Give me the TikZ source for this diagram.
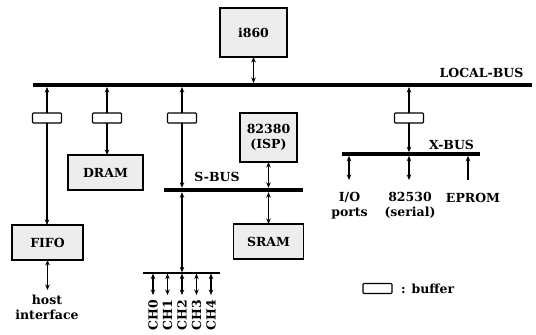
\documentclass[tikz,border=0pt]{standalone}
\usepackage{fontspec}
\setmainfont{DejaVu Serif}
\usetikzlibrary{arrows.meta}
\begin{document}
\begin{tikzpicture}[x=1pt,y=-1pt,
  >={Stealth[length=5.5pt,width=4.5pt]},
  lbl/.style={font=\fontsize{12.5}{15}\selectfont\bfseries, inner sep=0pt, align=center},
  chlbl/.style={font=\fontsize{12.5}{15}\selectfont\bfseries, inner sep=0pt, rotate=90, anchor=east},
  blk/.style={draw, line width=1.4pt, fill=black!7, inner sep=0pt, outer sep=0pt, align=center,
              font=\fontsize{12.5}{15}\selectfont\bfseries},
  buf/.style={draw, line width=1.1pt, fill=white, minimum width=29pt, minimum height=10pt,
              inner sep=0pt, outer sep=0pt, rounded corners=0.8pt},
  bus/.style={fill=black, inner sep=0pt, outer sep=0pt},
  conn/.style={line width=1.2pt},
]
\useasboundingbox (0,0) rectangle (536,335);

% buses
\node[bus, minimum width=499pt, minimum height=4pt] (lbus) at (282.5,85) {};
\node[bus, minimum width=138pt, minimum height=3.6pt] (xbus) at (411,154) {};
\node[bus, minimum width=139pt, minimum height=4.4pt] (sbus) at (233.5,190) {};
\node[bus, minimum width=77pt, minimum height=1.2pt] (cbus) at (181.5,273) {};

% bus labels
\node[lbl] (lbuslbl) at (481.5,73) {LOCAL-BUS};
\node[lbl] (xbuslbl) at (451.5,145) {X-BUS};
\node[lbl] (sbuslbl) at (217,177) {S-BUS};

% blocks
\node[blk, minimum width=67pt, minimum height=49pt] (i860) at (253.5,32.5) {i860};
\node[blk, minimum width=75pt, minimum height=35pt] (dram) at (105.5,172.5) {DRAM};
\node[blk, minimum width=71pt, minimum height=35pt] (fifo) at (47.5,242.5) {FIFO};
\node[blk, minimum width=57pt, minimum height=49pt] (isp) at (268.5,137.5) {82380\\(ISP)};
\node[blk, minimum width=70pt, minimum height=35pt] (sram) at (268.5,241.5) {SRAM};

% buffers
\node[buf] (b1) at (47,118) {};
\node[buf] (b2) at (107,118) {};
\node[buf] (b3) at (182,118) {};
\node[buf] (b4) at (409,118) {};

% i860 to local bus
\draw[conn,<->] (i860.south) -- (i860.south |- lbus.north);

% buffered branches
\draw[conn,->] (b1.north) -- (b1.north |- lbus.south);
\draw[conn,->] (b1.south) -- (b1.south |- fifo.north);
\draw[conn,->] (b2.north) -- (b2.north |- lbus.south);
\draw[conn,->] (b2.south) -- (b2.south |- dram.north);
\draw[conn,->] (b3.north) -- (b3.north |- lbus.south);
\draw[conn,->] (b3.south) -- (b3.south |- sbus.north);
\draw[conn,->] (b4.north) -- (b4.north |- lbus.south);
\draw[conn,->] (b4.south) -- (b4.south |- xbus.north);

% S-bus connections
\draw[conn,<->] (b3.south |- sbus.south) -- (b3.south |- cbus.north);
\draw[conn,<->] (isp.south) -- (isp.south |- sbus.north);
\draw[conn,<->] (sram.north |- sbus.south) -- (sram.north);

% X-bus devices
\coordinate (xio) at (349,180);
\coordinate (xser) at (409,180);
\coordinate (xep) at (468,180);
\draw[conn,<->] (xio |- xbus.south) -- (xio);
\draw[conn,<->] (xser |- xbus.south) -- (xser);
\draw[conn,->] (xep) -- (xep |- xbus.south);
\node[lbl] (iolbl) at (349.5,205.5) {I/O\\ports};
\node[lbl] (serlbl) at (410,205.5) {82530\\(serial)};
\node[lbl] (eplbl) at (473,198) {EPROM};

% host interface
\coordinate (hostend) at (47.5,290);
\draw[conn,<->] (fifo.south) -- (hostend);
\node[lbl] (hostlbl) at (47,307) {host\\interface};

% channels
\foreach \i in {0,...,4} {
  \coordinate (ce\i) at (153+14.5*\i,295);
  \draw[conn,<->] (ce\i |- cbus.south) -- (ce\i);
  \node[chlbl] (ch\i) at (153+14.5*\i,299.5) {CH\i};
}

% legend
\node[buf] (lgbuf) at (377.5,288.5) {};
\node[lbl, anchor=west] (lgtxt) at (401,289) {: buffer};
\end{tikzpicture}
\end{document}
